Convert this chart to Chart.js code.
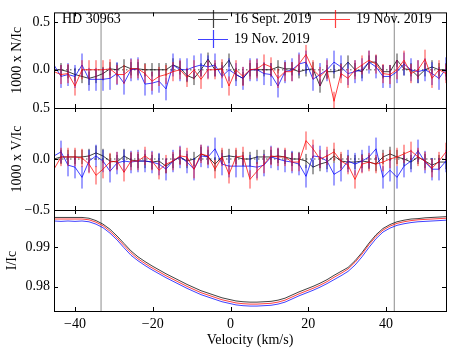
<!DOCTYPE html>
<html>
<head>
<meta charset="utf-8">
<script src="https://cdn.jsdelivr.net/npm/chart.js@4"></script>
<style>
  body { margin: 0; background: #fff; }
  #wrap { position: relative; width: 451px; height: 355px; }
  #wrap canvas { position: absolute; left: 0; top: 0; }
</style>
</head>
<body>
<div id="wrap">
  <canvas id="pI" width="451" height="355"></canvas>
  <canvas id="pV" width="451" height="355"></canvas>
  <canvas id="pN" width="451" height="355"></canvas>
</div>
<script>
// velocity grid (km/s)
const velocity = [-45.4,-43.6,-41.8,-40.0,-38.2,-36.4,-34.6,-32.8,-31.0,-29.2,-27.4,-25.6,-23.8,-22.0,-20.2,-18.4,-16.6,-14.8,-13.0,-11.2,-9.4,-7.6,-5.8,-4.0,-2.2,-0.4,1.4,3.2,5.0,6.8,8.6,10.4,12.2,14.0,15.8,17.6,19.4,21.2,23.0,24.8,26.6,28.4,30.2,32.0,33.8,35.6,37.4,39.2,41.0,42.8,44.6,46.4,48.2,50.0,51.8,53.6,55.4];

// Null profiles (x1000)
const nSept = [0.00,0.00,-0.02,-0.05,-0.07,-0.09,-0.07,-0.04,0.01,0.00,0.04,0.01,0.01,0.00,0.00,0.00,0.00,0.05,0.02,-0.06,-0.09,0.00,0.11,0.00,0.01,0.10,-0.05,-0.09,0.00,0.00,0.00,0.00,0.03,0.01,0.01,-0.02,0.00,0.01,-0.17,-0.02,-0.02,0.00,0.08,0.00,-0.02,0.08,0.08,-0.02,-0.02,0.10,0.01,0.00,-0.07,0.00,0.03,0.00,0.00];
const nNovRed = [-0.02,-0.05,-0.04,-0.17,0.00,0.00,0.00,0.00,0.01,-0.05,-0.05,0.01,0.01,-0.04,-0.12,-0.07,-0.05,-0.02,0.00,-0.08,0.00,-0.10,0.00,0.00,0.01,-0.17,0.00,-0.07,0.00,0.01,0.06,0.03,-0.09,-0.02,-0.02,0.06,0.16,0.00,-0.07,0.00,-0.33,-0.04,-0.09,0.00,0.05,0.10,0.06,-0.04,-0.05,0.00,0.10,-0.04,0.00,0.11,-0.09,0.00,-0.04];
const nNovBlue = [0.05,-0.07,-0.05,-0.07,0.05,-0.10,-0.10,-0.10,-0.09,-0.04,-0.14,0.00,0.01,-0.15,-0.14,-0.12,-0.20,0.05,0.00,0.00,0.03,0.05,0.03,0.05,-0.07,0.00,-0.05,-0.09,0.00,0.00,-0.04,-0.05,-0.17,-0.02,0.00,0.06,0.08,-0.10,-0.05,0.00,0.08,0.03,-0.04,-0.02,0.00,0.08,0.03,-0.07,-0.07,-0.02,0.06,0.00,-0.02,0.00,-0.04,-0.09,0.01];

// Stokes V profiles (x1000)
const vSept = [0.00,0.02,0.02,0.02,0.02,0.03,0.06,0.03,-0.02,-0.03,0.03,-0.01,-0.02,-0.02,-0.03,-0.02,-0.07,-0.02,0.02,-0.02,0.00,0.05,0.02,-0.05,0.02,0.03,0.02,0.00,0.00,0.02,0.02,0.02,0.03,0.02,0.00,0.00,-0.02,-0.08,-0.05,-0.03,0.03,-0.02,-0.03,-0.03,-0.02,-0.03,-0.05,0.02,0.05,0.02,0.00,-0.03,0.02,-0.02,-0.06,-0.03,-0.03];
const vNovRed = [-0.10,0.02,0.02,0.02,0.01,-0.05,-0.16,-0.10,-0.03,-0.02,-0.13,-0.02,-0.02,0.03,-0.02,-0.11,-0.05,-0.02,0.03,0.02,-0.10,0.05,0.03,-0.10,0.02,-0.15,0.02,0.03,-0.20,-0.12,-0.05,0.03,0.02,0.02,-0.03,-0.03,0.18,0.10,0.00,0.03,0.07,-0.02,-0.06,-0.20,-0.05,-0.03,-0.05,-0.03,0.00,0.02,0.05,0.08,0.02,-0.02,-0.09,-0.02,0.07];
const vNovBlue = [0.03,0.07,-0.06,-0.08,-0.18,-0.02,0.03,-0.02,-0.12,-0.04,-0.02,-0.03,-0.02,-0.02,-0.03,-0.05,-0.10,-0.02,0.02,-0.03,-0.10,0.03,0.02,0.10,-0.05,-0.07,-0.07,-0.07,-0.07,-0.08,-0.06,0.02,0.00,-0.02,-0.03,-0.05,-0.17,0.03,0.02,-0.02,-0.15,-0.11,-0.02,-0.05,-0.02,0.02,0.10,-0.18,-0.11,-0.18,-0.07,-0.02,0.08,-0.03,-0.10,-0.10,-0.02];

// Stokes I profiles
const iSept = [0.9976,0.9976,0.9976,0.9976,0.9976,0.9974,0.9968,0.9959,0.9946,0.9929,0.9910,0.9891,0.9876,0.9864,0.9853,0.9843,0.9833,0.9824,0.9815,0.9806,0.9798,0.9790,0.9784,0.9778,0.9772,0.9768,0.9764,0.9762,0.9761,0.9761,0.9762,0.9763,0.9766,0.9771,0.9779,0.9787,0.9794,0.9801,0.9809,0.9818,0.9829,0.9839,0.9849,0.9866,0.9887,0.9911,0.9932,0.9948,0.9958,0.9965,0.9969,0.9972,0.9973,0.9975,0.9976,0.9977,0.9978];
const iNovRed = [0.9972,0.9972,0.9972,0.9972,0.9972,0.9970,0.9964,0.9955,0.9941,0.9924,0.9905,0.9886,0.9871,0.9859,0.9848,0.9838,0.9828,0.9819,0.9810,0.9801,0.9793,0.9785,0.9779,0.9773,0.9767,0.9763,0.9759,0.9757,0.9756,0.9756,0.9757,0.9758,0.9761,0.9766,0.9774,0.9782,0.9789,0.9796,0.9804,0.9813,0.9824,0.9834,0.9845,0.9862,0.9883,0.9907,0.9928,0.9944,0.9954,0.9961,0.9965,0.9968,0.9970,0.9971,0.9972,0.9973,0.9974];
const iNovBlue = [0.9967,0.9966,0.9967,0.9966,0.9967,0.9965,0.9959,0.9950,0.9936,0.9919,0.9899,0.9880,0.9866,0.9854,0.9843,0.9833,0.9823,0.9814,0.9805,0.9796,0.9788,0.9780,0.9774,0.9768,0.9762,0.9758,0.9754,0.9752,0.9751,0.9751,0.9752,0.9753,0.9756,0.9761,0.9769,0.9777,0.9784,0.9791,0.9799,0.9808,0.9818,0.9828,0.9839,0.9855,0.9876,0.9900,0.9922,0.9939,0.9949,0.9956,0.9960,0.9963,0.9965,0.9966,0.9967,0.9968,0.9969];

// error bar half-lengths per night
const nErr = [0.07, 0.10, 0.12];
const vErr = [0.07, 0.09, 0.11];

const seriesLabels = ["16 Sept. 2019", "19 Nov. 2019", "19 Nov. 2019"];
const seriesColors = ["rgba(0,0,0,0.75)", "rgba(255,0,0,0.75)", "rgba(0,0,255,0.75)"];
const seriesOrder = [3, 1, 2]; // red drawn on top

const markerVel = [-33.3, 42.1];
const xTicks = [-40, -20, 0, 20, 40];
const nTicks = [0.0, 0.5];
const vTicks = [-0.5, 0.0, 0.5];
const iTicks = [0.98, 0.99];
const xMin = -45.4, xMax = 55.4;

Chart.defaults.font.family = "'Liberation Serif', 'DejaVu Serif', serif";
Chart.defaults.font.size = 14;
Chart.defaults.color = "#000";

const fmtSigned = (v, d) => (v < 0 ? "\u2212" : "") + Math.abs(v).toFixed(d);

function linePts(vals) {
  return velocity.map((v, i) => ({ x: v, y: vals[i] }));
}
function errPts(vals, e) {
  const pts = [];
  velocity.forEach((v, i) => {
    pts.push({ x: v, y: vals[i] - e }, { x: v, y: vals[i] + e }, { x: v, y: null });
  });
  return pts;
}
function markerPts(lo, hi) {
  const pts = [];
  markerVel.forEach((m) => pts.push({ x: m, y: lo }, { x: m, y: hi }, { x: m, y: null }));
  return pts;
}

// frame + inward ticks on all sides
const framePlugin = {
  id: "frame",
  afterDraw(chart, args, opts) {
    const { ctx, chartArea: a, scales } = chart;
    ctx.save();
    ctx.strokeStyle = "#000";
    ctx.lineWidth = 1;
    ctx.beginPath();
    xTicks.forEach((t) => {
      const px = Math.round(scales.x.getPixelForValue(t)) + 0.5;
      ctx.moveTo(px, a.bottom); ctx.lineTo(px, a.bottom - 4);
      ctx.moveTo(px, a.top); ctx.lineTo(px, a.top + 4);
    });
    opts.yTicks.forEach((t) => {
      const py = Math.round(scales.y.getPixelForValue(t)) + 0.5;
      ctx.moveTo(a.left, py); ctx.lineTo(a.left + 4, py);
      ctx.moveTo(a.right, py); ctx.lineTo(a.right - 4, py);
    });
    ctx.stroke();
    ctx.strokeRect(a.left + 0.5, a.top + 0.5, a.right - a.left, a.bottom - a.top);
    ctx.restore();
  },
};

// star name + two-column legend in the top panel
const legendPlugin = {
  id: "topLegend",
  afterDraw(chart, args, opts) {
    if (!opts.show) return;
    const ctx = chart.ctx;
    ctx.save();
    ctx.globalAlpha = 1;
    ctx.setLineDash([]);
    ctx.font = "14px 'Liberation Serif', 'DejaVu Serif', serif";
    ctx.textBaseline = "middle";
    ctx.textAlign = "left";
    ctx.fillStyle = "#000";
    ctx.fillText("HD 30963", 62, 19);
    const slots = [[198, 19], [320, 19], [198, 39]];
    seriesLabels.forEach((lab, k) => {
      const [hx, hy] = slots[k];
      ctx.beginPath();
      ctx.moveTo(hx, hy + 0.5);
      ctx.lineTo(hx + 30, hy + 0.5);
      ctx.moveTo(hx + 15.5, hy - 9);
      ctx.lineTo(hx + 15.5, hy + 9);
      ctx.lineWidth = 1.2;
      ctx.strokeStyle = seriesColors[k];
      ctx.stroke();
      ctx.fillStyle = "#000";
      ctx.fillText(lab, hx + 36, hy);
    });
    ctx.restore();
  },
};

function makePanel(id, p) {
  const datasets = [];
  p.series.forEach((vals, k) => {
    datasets.push({
      data: linePts(vals), borderColor: seriesColors[k], borderWidth: 1,
      pointRadius: 0, tension: 0, order: seriesOrder[k],
    });
    if (p.errs) {
      datasets.push({
        data: errPts(vals, p.errs[k]), borderColor: seriesColors[k], borderWidth: 1,
        pointRadius: 0, spanGaps: false, order: seriesOrder[k],
      });
    }
  });
  if (p.zero) {
    datasets.push({
      data: [{ x: xMin, y: 0 }, { x: xMax, y: 0 }], borderColor: "rgba(110,110,110,0.8)",
      borderWidth: 1.3, borderDash: [1.5, 2.5], pointRadius: 0, order: 6,
    });
  }
  datasets.push({
    data: markerPts(p.yMin, p.yMax), borderColor: "#8c8c8c", borderWidth: 1,
    pointRadius: 0, spanGaps: false, order: 5,
  });

  return new Chart(document.getElementById(id), {
    type: "line",
    data: { datasets },
    plugins: [framePlugin, legendPlugin],
    options: {
      responsive: false,
      animation: false,
      devicePixelRatio: 1,
      layout: { padding: { left: 0, right: 5, top: p.top, bottom: p.bottom } },
      plugins: {
        legend: { display: false },
        tooltip: { enabled: false },
        frame: { yTicks: p.yTicks },
        topLegend: { show: !!p.legend },
      },
      scales: {
        x: {
          type: "linear", min: xMin, max: xMax, display: !!p.showX,
          afterBuildTicks: (s) => { s.ticks = xTicks.map((v) => ({ value: v })); },
          afterFit: (s) => { if (p.showX) s.height = 44; },
          grid: { display: false, drawTicks: false },
          border: { display: false },
          ticks: { padding: 5, autoSkip: false, maxRotation: 0, callback: (v) => fmtSigned(v, 0) },
          title: { display: true, text: "Velocity (km/s)", padding: { top: 0, bottom: 6 } },
        },
        y: {
          type: "linear", min: p.yMin, max: p.yMax,
          afterBuildTicks: (s) => { s.ticks = p.yTicks.map((v) => ({ value: v })); },
          afterFit: (s) => { s.width = 54; },
          grid: { display: false, drawTicks: false },
          border: { display: false },
          ticks: { padding: 4, autoSkip: false, callback: p.fmt },
          title: { display: true, text: p.title, padding: { top: p.titlePad, bottom: 0 } },
        },
      },
    },
  });
}

makePanel("pN", {
  series: [nSept, nNovRed, nNovBlue], errs: nErr, zero: true, legend: true,
  yMin: -0.4, yMax: 0.6, yTicks: nTicks, fmt: (v) => fmtSigned(v, 1),
  title: "1000 x N/Ic", titlePad: 9, top: 8, bottom: 247,
});
makePanel("pV", {
  series: [vSept, vNovRed, vNovBlue], errs: vErr, zero: true,
  yMin: -0.5, yMax: 0.5, yTicks: vTicks, fmt: (v) => fmtSigned(v, 1),
  title: "1000 x V/Ic", titlePad: 9, top: 108, bottom: 145,
});
makePanel("pI", {
  series: [iSept, iNovRed, iNovBlue], showX: true,
  yMin: 0.97385, yMax: 0.99949, yTicks: iTicks, fmt: (v) => v.toFixed(2),
  title: "I/Ic", titlePad: 4, top: 210, bottom: 0,
});
</script>
</body>
</html>
